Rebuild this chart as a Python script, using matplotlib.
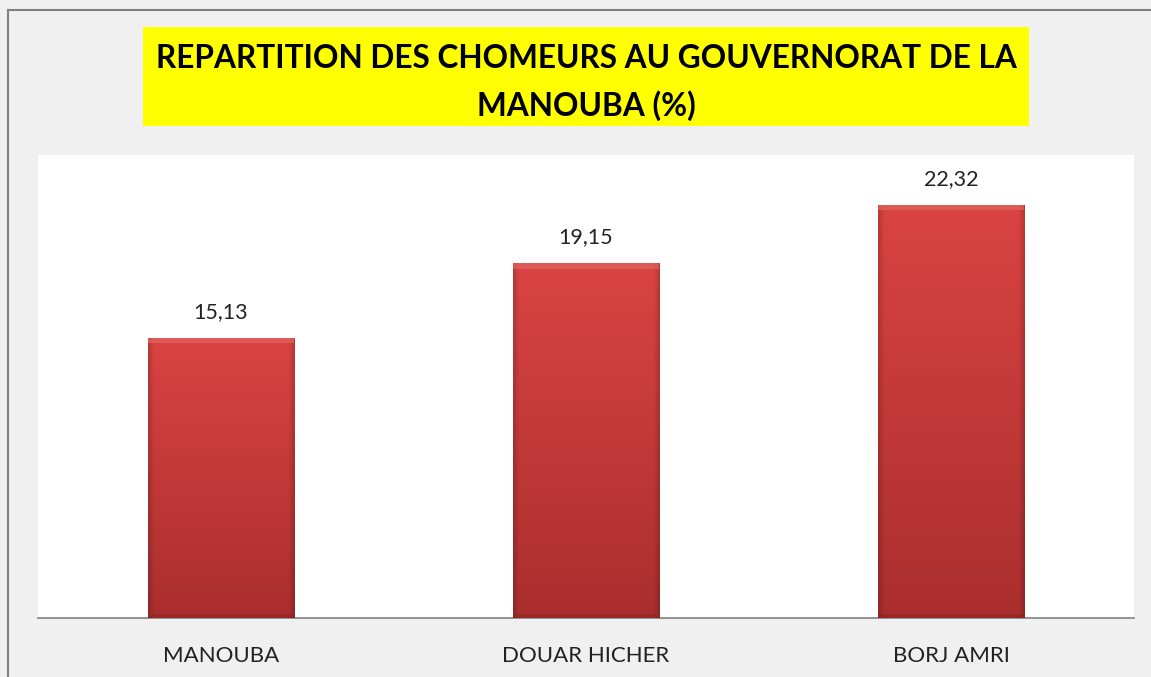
import numpy as np
import matplotlib
matplotlib.use("Agg")
import matplotlib.pyplot as plt
from matplotlib.patches import Rectangle

categories = ["MANOUBA", "DOUAR HICHER", "BORJ AMRI"]
values = [15.13, 19.15, 22.32]
value_labels = ["15,13", "19,15", "22,32"]
title_line1 = "REPARTITION DES CHOMEURS AU GOUVERNORAT DE LA"
title_line2 = "MANOUBA (%)"

W, H = 1151, 677
PX = 72 / 100  # points per pixel
fig = plt.figure(figsize=(W / 100, H / 100), dpi=100)
fig.patch.set_facecolor("#F0F0F0")

# outer border lines (top & left)
fig.add_artist(plt.Line2D([8 / W, 8 / W], [0, 1 - 10 / H], transform=fig.transFigure, color="#808080", lw=1.5))
fig.add_artist(plt.Line2D([8 / W, 1], [1 - 10 / H, 1 - 10 / H], transform=fig.transFigure, color="#808080", lw=1.5))

# yellow title box
fig.add_artist(Rectangle((143 / W, 1 - 126 / H), (1029 - 143) / W, (126 - 27) / H,
                         transform=fig.transFigure, facecolor="#FFFF00", edgecolor="none"))
fig.text(586 / W, 1 - 68 / H, title_line1, ha="center", va="baseline", fontsize=22.8,
         fontweight="bold", family="Lato", color="#000000")
fig.text(586 / W, 1 - 116 / H, title_line2, ha="center", va="baseline", fontsize=22.8,
         fontweight="bold", family="Lato", color="#000000")

ax = fig.add_axes([38 / W, 59 / H, 1096 / W, 463 / H])
ax.set_facecolor("white")
x = np.arange(len(categories))
bars = ax.bar(x, values, width=0.4, color="#D04040", edgecolor="none", zorder=2)
ax.set_xlim(-0.5, 2.5)
ax.set_ylim(0, 25)

# gradient fill with bevel effect
ny, nx = 200, 100
yy = np.linspace(0, 1, ny)[:, None]   # 0 bottom -> 1 top
xx = np.linspace(0, 1, nx)[None, :]
top = np.array([218, 68, 66]) / 255
bot = np.array([170, 46, 46]) / 255
base = bot + (top - bot) * yy[..., None]
edge = np.minimum(xx, 1 - xx)
shade = np.where(edge < 0.04, 0.84 + 0.16 * edge / 0.04, 1.0)
img = base * shade[..., None]
for b in bars:
    x0, y0 = b.get_x(), b.get_y()
    w, h = b.get_width(), b.get_height()
    im = ax.imshow(img, extent=(x0, x0 + w, y0, y0 + h), origin="lower",
                   aspect="auto", zorder=3, interpolation="bilinear")
    im.set_clip_path(b)
    ax.add_patch(Rectangle((x0, y0 + h - 0.3), w, 0.3, facecolor="#E36A66",
                           edgecolor="none", alpha=0.6, zorder=4))
    ax.add_patch(Rectangle((x0, y0), w, 0.2, facecolor="#8A2424",
                           edgecolor="none", alpha=0.5, zorder=4))
ax.set_xlim(-0.5, 2.5)
ax.set_ylim(0, 25)

for xi, v, lab in zip(x, values, value_labels):
    ax.annotate(lab, (xi, v), xytext=(0, 20 * PX), textcoords="offset points",
                ha="center", va="baseline", fontsize=15.5, family="Lato", color="#222222")

ax.set_xticks(x)
ax.set_xticklabels(categories, fontsize=16, family="Lato", color="#222222")
for t in ax.get_xticklabels():
    t.set_va("baseline")
ax.tick_params(axis="x", length=0, pad=44 * PX)
ax.set_yticks([])
for s in ["top", "right", "left"]:
    ax.spines[s].set_visible(False)
ax.spines["bottom"].set_color("#808080")
ax.spines["bottom"].set_linewidth(1.2)

fig.savefig("out.png", dpi=100, facecolor=fig.get_facecolor())
